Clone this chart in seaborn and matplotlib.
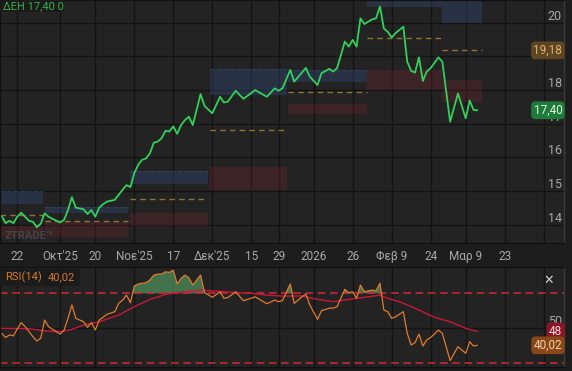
import matplotlib
matplotlib.use("Agg")
import matplotlib.pyplot as plt
import matplotlib.patches as mpatches
import seaborn as sns

# price (trading-day index -> close)
day = [0, 1, 2, 3, 4, 5, 6, 7, 8, 9, 10, 11, 12, 14, 15, 16, 17, 18, 19, 21,
       22, 23, 24, 25, 26, 27, 29, 30, 31, 32, 33, 34, 35, 36, 37, 38, 39, 40,
       41, 42, 43, 44, 45, 46, 47, 48, 49, 51, 52, 54, 56, 57, 58, 60, 62, 65,
       68, 70, 71, 72, 74, 75, 77, 78, 79, 81, 82, 84, 85, 86, 88, 89, 90, 91,
       92, 93, 95, 96, 97, 98, 99, 100, 101, 103, 104, 105, 106, 107, 108, 109,
       110, 112, 113, 115, 117, 119, 120, 121, 122]
close = [14.26, 14.05, 14.12, 14.05, 14.24, 14.36, 14.24, 14.12, 14.09, 13.93,
         14.03, 14.34, 14.24, 14.12, 14.07, 14.15, 14.44, 14.82, 14.51, 14.46,
         14.32, 14.44, 14.24, 14.51, 14.61, 14.69, 14.74, 14.89, 15.04, 15.18,
         15.12, 15.53, 15.78, 15.93, 15.97, 16.12, 16.44, 16.47, 16.57, 16.79,
         16.77, 16.92, 16.70, 16.96, 17.11, 17.21, 16.96, 17.88, 17.53, 17.31,
         17.80, 17.63, 17.66, 17.98, 17.74, 18.00, 17.80, 18.05, 17.98, 18.05,
         18.60, 18.25, 18.52, 18.66, 18.40, 18.15, 18.50, 18.63, 18.55, 18.65,
         19.44, 19.29, 19.49, 19.29, 20.13, 19.96, 20.10, 20.13, 20.48, 19.83,
         19.73, 19.56, 19.69, 19.88, 18.84, 18.57, 18.52, 18.97, 18.27, 18.55,
         18.65, 18.97, 18.84, 17.06, 17.90, 17.16, 17.69, 17.41, 17.40]
rsi = [46.9, 44.5, 46.0, 45.5, 49.5, 53.1, 50.8, 47.9, 45.0, 42.5, 44.1, 54.6,
       50.8, 47.9, 46.5, 48.8, 55.6, 63.3, 55.6, 53.6, 50.4, 53.1, 48.8, 54.6,
       56.2, 57.9, 59.4, 64.2, 66.1, 69.0, 64.6, 74.2, 75.4, 75.8, 76.1, 77.7,
       80.5, 81.1, 81.1, 82.4, 82.1, 83.4, 75.4, 78.6, 80.5, 79.0, 74.8, 80.5,
       70.5, 67.7, 70.9, 67.1, 67.6, 70.9, 65.7, 68.0, 64.0, 66.1, 65.2, 65.8,
       75.4, 64.2, 68.0, 69.6, 63.3, 55.0, 60.0, 61.4, 61.5, 62.3, 72.3, 70.3,
       70.9, 67.1, 74.8, 70.9, 71.9, 71.5, 75.8, 60.4, 59.4, 55.6, 56.5, 59.4,
       46.9, 40.2, 41.5, 46.5, 39.6, 43.1, 44.5, 48.8, 46.9, 31.2, 39.2, 35.4,
       42.1, 39.6, 40.02]

# RSI moving average
ma_day = [0, 7, 11, 15, 18, 21, 25, 30, 34, 38, 42, 47, 51, 55, 59, 64, 68, 72,
          77, 81, 85, 89, 94, 97, 99, 102, 106, 111, 115, 119, 122]
ma_val = [49.8, 49.6, 48.4, 47.9, 49.2, 51.7, 53.6, 57.5, 62.3, 66.5, 69.4,
          70.9, 71.9, 71.3, 70.6, 70.0, 69.0, 68.4, 68.5, 66.5, 65.2, 66.5,
          68.0, 69.0, 67.1, 65.2, 61.4, 56.2, 53.6, 49.8, 48.0]

# monthly zones
zone_start = [-0.5, 11.1, 32.9, 53.3, 73.3, 93.8, 113.0]
zone_end = [10.6, 32.4, 52.9, 73.2, 93.7, 112.9, 123.2]
blue_lo = [14.62, 14.34, 15.20, 17.85, 18.24, 20.47, 20.00]
blue_hi = [15.00, 14.54, 15.60, 18.63, 18.60, 20.80, 20.80]
red_lo = [13.65, 13.65, 13.95, 15.03, 17.29, 17.99, 17.66]
red_hi = [13.95, 14.08, 14.35, 15.72, 17.58, 18.60, 18.30]
pivot = [14.29, 14.11, 14.76, 16.80, 17.94, 19.54, 19.18]

grid_days = [4, 15, 24, 34, 44, 54, 64, 71, 80, 90, 100, 110, 119, 129, 139]
tick_labels = ["22", "Οκτ'25", "20", "Νοε'25", "17", "Δεκ'25", "15", "29",
               "2026", "26", "Φεβ 9", "24", "Μαρ 9", "23", ""]
price_ticks = [14, 15, 16, 17, 18, 19, 20]
price_labels = ["14", "15", "16", "17", "18", "", "20"]

sns.set_theme(style="dark")
plt.rcParams['font.family'] = ['Roboto', 'DejaVu Sans']

W, H = 572, 371
BG = '#222322'
GRID = '#131313'
fig = plt.figure(figsize=(W / 100, H / 100), dpi=100, facecolor='#1d1d1d')
ax = fig.add_axes([0, 1 - 243 / H, 564 / W, 243 / H])
ax_rsi = fig.add_axes([0, 4 / H, 564 / W, 100 / H])

for a in (ax, ax_rsi):
    a.set_facecolor(BG)
    for s in a.spines.values():
        s.set_color('#111111')
        s.set_linewidth(1)
    a.spines['right'].set_color('#3a3a3a')
    a.set_xlim(-0.44, 144.2)
    a.set_xticks(grid_days)
    a.grid(True, color=GRID, lw=1)
    a.set_axisbelow(True)
    a.tick_params(axis='both', length=0, labelleft=False)

ax.set_ylim(13.46, 20.674)
ax.set_yticks(price_ticks)
ax.set_xticklabels(tick_labels)
ax.tick_params(axis='x', pad=5, labelsize=8.5, colors='#a8a8a8')

ax_rsi.set_ylim(27.5, 85.2)
ax_rsi.set_yticks([50])
ax_rsi.tick_params(axis='x', labelbottom=False)

# zones and pivots
for i in range(len(zone_start)):
    xs = [zone_start[i], zone_end[i]]
    ax.fill_between(xs, [blue_lo[i]] * 2, [blue_hi[i]] * 2, color='#3b5896', alpha=0.3, lw=0)
    ax.plot(xs, [blue_hi[i]] * 2, color='#3b5896', alpha=0.4, lw=0.7, ls=(0, (4, 3)))
    ax.fill_between(xs, [red_lo[i]] * 2, [red_hi[i]] * 2, color='#8a2633', alpha=0.26, lw=0)
    ax.plot(xs, [pivot[i]] * 2, color='#8f7334', lw=1, ls=(0, (4, 3)))

sns.lineplot(x=day, y=close, ax=ax, color='#33d05a', lw=1.3)

# RSI panel
ax_rsi.axhline(70, color='#d3283e', lw=1.1, ls=(0, (5, 3)))
ax_rsi.axhline(30, color='#d3283e', lw=1.1, ls=(0, (5, 3)))
ax_rsi.fill_between(day, rsi, 70, where=[r > 70 for r in rsi], interpolate=True,
                    color='#4d8f5c', alpha=0.75, lw=0)
sns.lineplot(x=ma_day, y=ma_val, ax=ax_rsi, color='#c8173c', lw=1.0)
sns.lineplot(x=day, y=rsi, ax=ax_rsi, color='#e07b2c', lw=0.9)

for a in (ax, ax_rsi):
    a.set_xlabel('')
    a.set_ylabel('')

# price scale labels (sit just above their grid line)
for v, lab in zip(price_ticks, price_labels):
    ax.text(0.996, v, lab, transform=ax.get_yaxis_transform(), ha='right',
            va='bottom', fontsize=9, color='#a8a8a8')
ax_rsi.text(0.996, 50, "50", transform=ax_rsi.get_yaxis_transform(), ha='right',
            va='bottom', fontsize=9, color='#a8a8a8')


def badge(a, y, txt, fc, tc):
    a.text(0.997, y, txt, transform=a.get_yaxis_transform(), ha='right', va='center',
           fontsize=8.5, color=tc, zorder=10,
           bbox=dict(boxstyle='round,pad=0.2,rounding_size=0.35', fc=fc, ec='none'))


badge(ax, pivot[-1], "19,18", '#5e4622', '#e3b26e')
badge(ax, close[-1], "17,40", '#1e7b3a', '#d9f7df')
badge(ax_rsi, ma_val[-1], "48", '#8e1425', '#f3d6da')
badge(ax_rsi, rsi[-1], "40,02", '#8a4718', '#f4cfae')

# legends / labels
ax.add_patch(mpatches.Rectangle((0, 1 - 12 / 243), 64 / 564, 12 / 243, transform=ax.transAxes,
                                fc='#1a1b1a', ec='none', zorder=8))
ax.text(3 / 564, 1 - 6 / 243, "ΔΕΗ 17,40 0", transform=ax.transAxes, ha='left', va='center',
        fontsize=8, color='#36b04c', zorder=9)
ax.text(5 / 564, 7 / 243, "ZTRADE™", transform=ax.transAxes, ha='left', va='center',
        fontsize=8, fontweight='bold', color='#444444', zorder=3)

ax_rsi.add_patch(mpatches.Rectangle((0, 0.81), 80 / 564, 0.17, transform=ax_rsi.transAxes,
                                    fc='#1a1b1a', ec='none', zorder=8))
ax_rsi.text(5 / 564, 0.9, "RSI(14)", transform=ax_rsi.transAxes, ha='left', va='center',
            fontsize=8, color='#d9782c', zorder=9)
ax_rsi.text(48 / 564, 0.9, "40,02", transform=ax_rsi.transAxes, ha='left', va='center',
            fontsize=8, color='#d9782c', zorder=9)
ax_rsi.text(549 / 564, 0.87, "✕", transform=ax_rsi.transAxes, ha='center', va='center',
            fontsize=9, color='#cfcfcf', family='DejaVu Sans', zorder=9)

fig.savefig('out.png', dpi=100, facecolor=fig.get_facecolor())
